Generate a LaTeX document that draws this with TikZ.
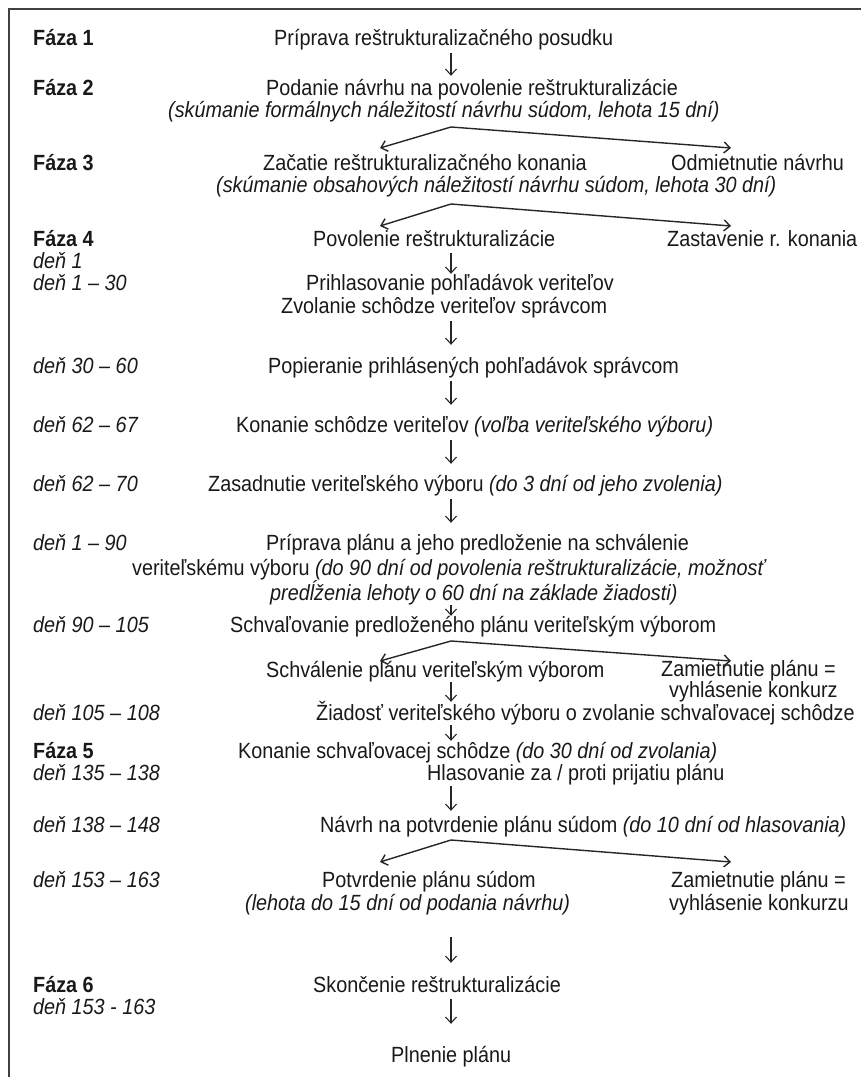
\documentclass[tikz,border=0pt]{standalone}
\usepackage{fontspec}
\setmainfont{Liberation Sans}[FakeStretch=0.9]
\usetikzlibrary{arrows.meta}
\begin{document}
\begin{tikzpicture}[x=1pt,y=-1pt,
  txt/.style={anchor=base west, inner sep=0pt, text height=16pt, text depth=5pt, font=\fontsize{22}{26}\selectfont, text=black!90},
  fz/.style={txt, font=\fontsize{22}{26}\selectfont\bfseries},
  dn/.style={txt, font=\fontsize{22}{26}\selectfont\itshape},
  it/.style={txt, font=\fontsize{22}{26}\selectfont\itshape},
  arr/.style={line width=1.1pt, black!85, -{Straight Barb[length=6pt,width=11pt]}},
  barr/.style={line width=1.4pt, black!85, -{Straight Barb[length=6pt,width=11pt]}},
  frame/.style={line width=1.6pt, black!75}
]
\useasboundingbox (0,0) rectangle (861,1077);
\draw[frame] (9,1077) -- (9,9) -- (861,9);
\coordinate (col) at (451,0);

% left labels
\node[fz] (f1) at (33,45) {Fáza 1};
\node[fz] (f2) at (33,95) {Fáza 2};
\node[fz] (f3) at (33,170) {Fáza 3};
\node[fz] (f4) at (33,246) {Fáza 4};
\node[dn] (d1) at (33,268) {deň 1};
\node[dn] (d2) at (33,290) {deň 1 – 30};
\node[dn] (d3) at (33,373) {deň 30 – 60};
\node[dn] (d4) at (33,432) {deň 62 – 67};
\node[dn] (d5) at (33,491) {deň 62 – 70};
\node[dn] (d6) at (33,550) {deň 1 – 90};
\node[dn] (d7) at (33,632) {deň 90 – 105};
\node[dn] (d8) at (33,720) {deň 105 – 108};
\node[fz] (f5) at (33,758) {Fáza 5};
\node[dn] (d9) at (33,780) {deň 135 – 138};
\node[dn] (d10) at (33,832) {deň 138 – 148};
\node[dn] (d11) at (33,887) {deň 153 – 163};
\node[fz] (f6) at (33,992) {Fáza 6};
\node[dn] (d12) at (33,1014) {deň 153 - 163};

% main column
\node[txt] (p1) at (274,45) {Príprava reštrukturalizačného posudku};
\node[txt] (p2) at (266,95) {Podanie návrhu na povolenie reštrukturalizácie};
\node[it] (p2b) at (168,117) {(skúmanie formálnych náležitostí návrhu súdom, lehota 15 dní)};
\node[txt] (p3) at (263,170) {Začatie reštrukturalizačného konania};
\node[txt] (p3r) at (671,170) {Odmietnutie návrhu};
\node[it] (p3b) at (216,192) {(skúmanie obsahových náležitostí návrhu súdom, lehota 30 dní)};
\node[txt] (p4) at (313,246) {Povolenie reštrukturalizácie};
\node[txt] (p4r) at (667,246) {Zastavenie r. konania};
\node[txt] (p5) at (306,290) {Prihlasovanie pohľadávok veriteľov};
\node[txt] (p5b) at (281,313) {Zvolanie schôdze veriteľov správcom};
\node[txt] (p6) at (268,373) {Popieranie prihlásených pohľadávok správcom};
\node[txt] (p7) at (236,432) {Konanie schôdze veriteľov \textit{(voľba veriteľského výboru)}};
\node[txt] (p8) at (208,491) {Zasadnutie veriteľského výboru \textit{(do 3 dní od jeho zvolenia)}};
\node[txt] (p9) at (266,550) {Príprava plánu a jeho predloženie na schválenie};
\node[txt] (p9b) at (132,575) {veriteľskému výboru \textit{(do 90 dní od povolenia reštrukturalizácie, možnosť}};
\node[it] (p9c) at (270,600) {predĺženia lehoty o 60 dní na základe žiadosti)};
\node[txt] (p10) at (230,632) {Schvaľovanie predloženého plánu veriteľským výborom};
\node[txt] (p11) at (266,677) {Schválenie plánu veriteľským výborom};
\node[txt] (p11r) at (661,676) {Zamietnutie plánu =};
\node[txt] (p11s) at (669,697) {vyhlásenie konkurz};
\node[txt] (p12) at (316,720) {Žiadosť veriteľského výboru o zvolanie schvaľovacej schôdze};
\node[txt] (p13) at (238,758) {Konanie schvaľovacej schôdze \textit{(do 30 dní od zvolania)}};
\node[txt] (p14) at (427,780) {Hlasovanie za / proti prijatiu plánu};
\node[txt] (p15) at (320,832) {Návrh na potvrdenie plánu súdom \textit{(do 10 dní od hlasovania)}};
\node[txt] (p16) at (322,887) {Potvrdenie plánu súdom};
\node[it] (p16b) at (245,910) {(lehota do 15 dní od podania návrhu)};
\node[txt] (p16r) at (671,887) {Zamietnutie plánu =};
\node[txt] (p16s) at (669,910) {vyhlásenie konkurzu};
\node[txt] (p17) at (313,992) {Skončenie reštrukturalizácie};
\node[txt] (p18) at (391,1062) {Plnenie plánu};

% vertical arrows
\draw[arr, shorten <=3pt, shorten >=3pt] (p1.south -| col) -- (p2.north -| col);
\draw[arr, shorten <=2pt, shorten >=0pt] (p4.south -| col) -- (p5.north -| col);
\draw[arr, shorten <=3pt, shorten >=12pt] (p5b.south -| col) -- (p6.north -| col);
\draw[arr, shorten <=3pt, shorten >=11pt] (p6.south -| col) -- (p7.north -| col);
\draw[arr, shorten <=3pt, shorten >=11pt] (p7.south -| col) -- (p8.north -| col);
\draw[arr, shorten <=3pt, shorten >=11pt] (p8.south -| col) -- (p9.north -| col);
\draw[arr, shorten <=0pt, shorten >=0pt] (p9c.south -| col) -- (p10.north -| col);
\draw[arr, shorten <=0pt, shorten >=2pt] (p11.south -| col) -- (p12.north -| col);
\draw[arr, shorten <=0pt, shorten >=1pt] (p12.south -| col) -- (p13.north -| col);
\draw[arr, shorten <=1pt, shorten >=5pt] (p14.south -| col) -- (p15.north -| col);
\draw[arr, shorten <=22pt, shorten >=13pt] (p16b.south -| col) -- (p17.north -| col);
\draw[arr, shorten <=2pt, shorten >=22pt] (p17.south -| col) -- (p18.north -| col);

% branches
\coordinate (b1) at (451,127);
\coordinate (b1l) at (380,148);
\coordinate (b1r) at (731,148);
\draw[barr] (b1) -- (b1l);
\draw[barr] (b1) -- (b1r);
\coordinate (b2) at (451,204);
\coordinate (b2l) at (380,226);
\coordinate (b2r) at (731,226);
\draw[barr] (b2) -- (b2l);
\draw[barr] (b2) -- (b2r);
\coordinate (b3) at (451,641);
\coordinate (b3l) at (380,661);
\coordinate (b3r) at (731,661);
\draw[barr] (b3) -- (b3l);
\draw[barr] (b3) -- (b3r);
\coordinate (b4) at (451,840);
\coordinate (b4l) at (380,862);
\coordinate (b4r) at (731,862);
\draw[barr] (b4) -- (b4l);
\draw[barr] (b4) -- (b4r);
\end{tikzpicture}
\end{document}
